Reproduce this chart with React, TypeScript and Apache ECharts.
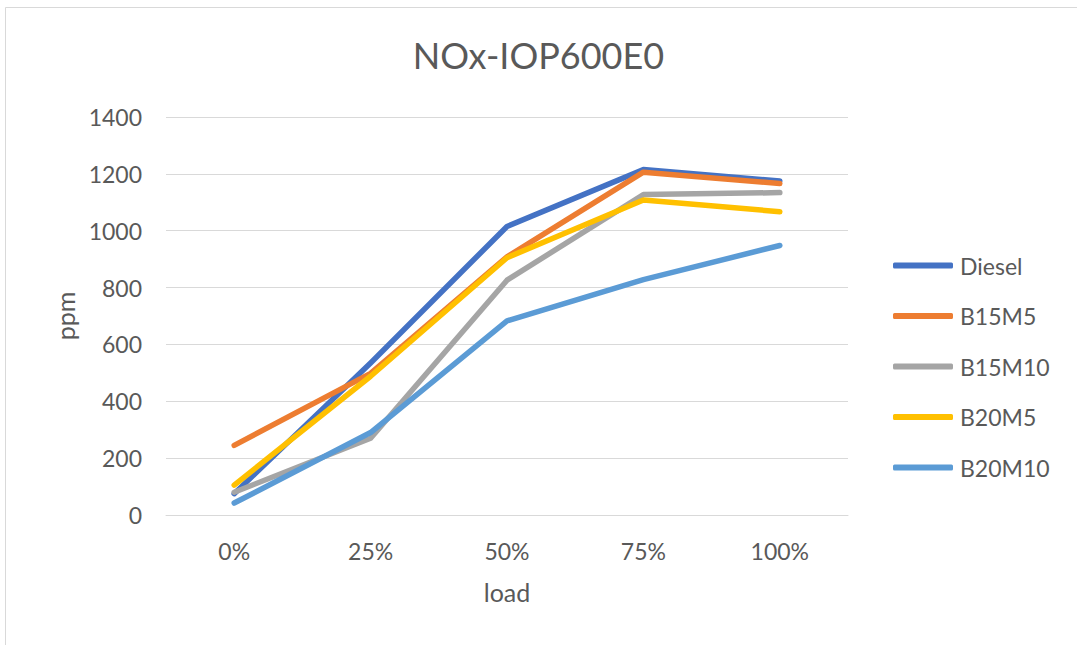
import React, { useEffect, useRef } from "react";
import * as echarts from "echarts";

const categories = ["0%", "25%", "50%", "75%", "100%"];
const seriesNames = ["Diesel", "B15M5", "B15M10", "B20M5", "B20M10"];
const diesel = [75, 535, 1015, 1215, 1175];
const b15m5 = [245, 498, 908, 1206, 1166];
const b15m10 = [80, 270, 826, 1127, 1134];
const b20m5 = [105, 488, 905, 1108, 1067];
const b20m10 = [42, 290, 683, 828, 948];
const seriesValues = [diesel, b15m5, b15m10, b20m5, b20m10];
const colors = ["#4472C4", "#ED7D31", "#A5A5A5", "#FFC000", "#5B9BD5"];

const FONT = "Lato, 'Open Sans', sans-serif";

export default function App() {
  const ref = useRef<HTMLDivElement>(null);
  useEffect(() => {
    document.body.style.margin = "0";
    const chart = echarts.init(ref.current!, null, { renderer: "svg" });
    chart.setOption({
      animation: false,
      backgroundColor: "#ffffff",
      textStyle: { fontFamily: FONT },
      title: {
        text: "NOx-IOP600E0",
        left: "center",
        top: 37,
        padding: 0,
        textStyle: { color: "#595959", fontSize: 36, fontWeight: "normal", fontFamily: FONT },
      },
      graphic: [
        {
          type: "rect",
          shape: { x: 5.5, y: 7.5, width: 1200, height: 800 },
          style: { fill: "none", stroke: "#d9d9d9", lineWidth: 1 },
          silent: true,
        },
      ],
      legend: {
        orient: "vertical",
        left: 888,
        top: 249,
        padding: 5,
        itemWidth: 60,
        itemHeight: 6,
        itemGap: 27.5,
        icon: "roundRect",
        data: seriesNames,
        textStyle: { color: "#595959", fontSize: 23, lineHeight: 23, fontFamily: FONT, padding: [0, 0, 0, 2] },
      },
      grid: { left: 166, right: 229, top: 117, bottom: 130 },
      xAxis: {
        type: "category",
        data: categories,
        boundaryGap: true,
        name: "load",
        nameLocation: "middle",
        nameGap: 64,
        nameTextStyle: { color: "#595959", fontSize: 25, fontFamily: FONT },
        axisLine: { show: true, lineStyle: { color: "#d9d9d9", width: 1 } },
        axisTick: { show: false },
        axisLabel: { color: "#595959", fontSize: 23, margin: 24, fontFamily: FONT },
      },
      yAxis: {
        type: "value",
        min: 0,
        max: 1400,
        interval: 200,
        name: "ppm",
        nameLocation: "middle",
        nameGap: 89,
        nameTextStyle: { color: "#595959", fontSize: 25, fontFamily: FONT },
        axisLine: { show: false },
        axisTick: { show: false },
        splitLine: { lineStyle: { color: "#d9d9d9", width: 1 } },
        axisLabel: {
          color: "#595959",
          fontSize: 23,
          margin: 24,
          fontFamily: FONT,
          formatter: (v: number) => String(v),
        },
      },
      series: seriesNames.map((name, i) => ({
        name,
        type: "line",
        data: seriesValues[i],
        symbol: "none",
        color: colors[i],
        lineStyle: { width: 5.5, color: colors[i], cap: "round", join: "round" },
      })),
    });
    return () => chart.dispose();
  }, []);
  return <div ref={ref} style={{ width: 1077, height: 645 }} />;
}
